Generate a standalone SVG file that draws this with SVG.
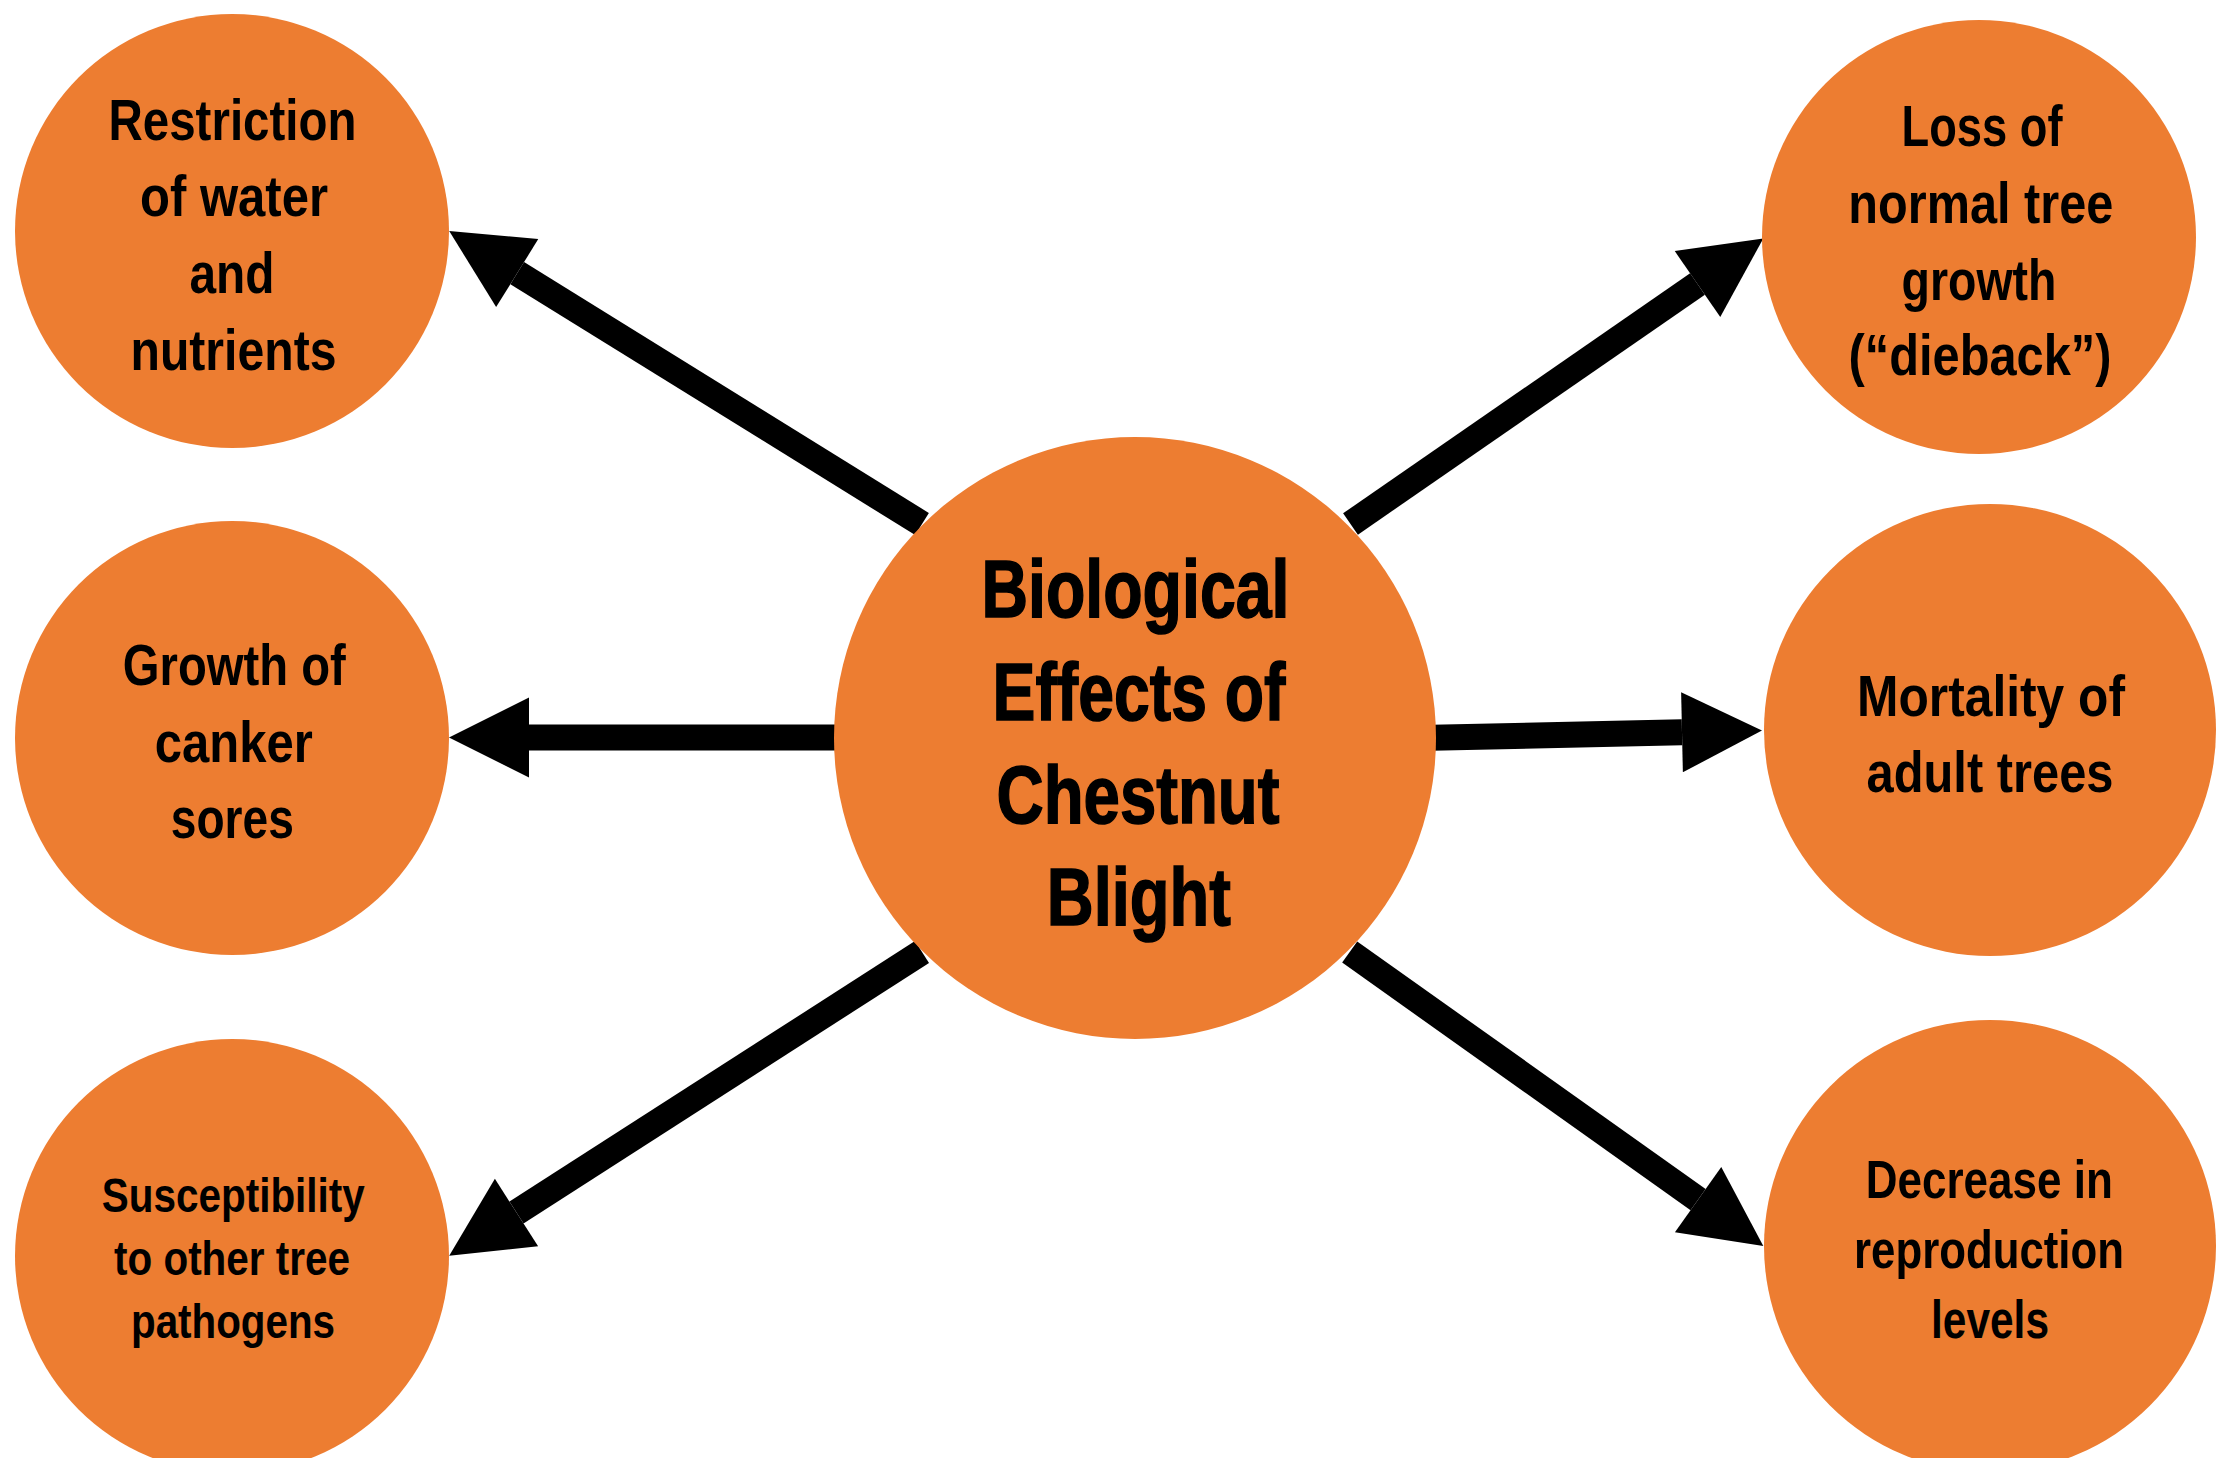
<svg xmlns="http://www.w3.org/2000/svg" width="2236" height="1458" viewBox="0 0 2236 1458">
<style>
.node{fill:#ED7D31;}
.lbl{font-family:"Liberation Sans Narrow","Liberation Sans",Arial,sans-serif;font-weight:bold;fill:#000;text-anchor:middle;}
.s58{font-size:58px;}
.s53{font-size:53px;}
.s48{font-size:48px;}
.big{font-size:81px;stroke:#000;stroke-width:1.5px;}
.conn{stroke:#000;stroke-width:26;stroke-linecap:butt;fill:none;marker-end:url(#head);}
</style>
<defs>
<marker id="head" markerUnits="userSpaceOnUse" markerWidth="82" markerHeight="82" refX="0" refY="0" orient="auto" overflow="visible">
<path d="M0,-40 L80,0 L0,40 z" fill="#000"/>
</marker>
</defs>
<rect width="2236" height="1458" fill="#fff"/>
<g id="connectors">
<line class="conn" x1="922" y1="524" x2="517.2" y2="273.1"/>
<line class="conn" x1="840" y1="737.5" x2="529" y2="737.5"/>
<line class="conn" x1="922" y1="952" x2="516.5" y2="1212.5"/>
<line class="conn" x1="1350.5" y1="524" x2="1697.5" y2="284"/>
<line class="conn" x1="1432" y1="737.7" x2="1682" y2="732.3"/>
<line class="conn" x1="1349.7" y1="952" x2="1698.1" y2="1199.6"/>
</g>
<g id="center">
<circle class="node" cx="1135" cy="738" r="301"/>
<text class="lbl big" x="1135.5" y="617.3" textLength="308" lengthAdjust="spacingAndGlyphs">Biological</text>
<text class="lbl big" x="1139" y="720" textLength="293" lengthAdjust="spacingAndGlyphs">Effects of</text>
<text class="lbl big" x="1138" y="822.7" textLength="283" lengthAdjust="spacingAndGlyphs">Chestnut</text>
<text class="lbl big" x="1138.8" y="925" textLength="184" lengthAdjust="spacingAndGlyphs">Blight</text>
</g>
<g id="restriction">
<circle class="node" cx="232" cy="231" r="217"/>
<text class="lbl s58" x="232.5" y="139.5" textLength="248" lengthAdjust="spacingAndGlyphs">Restriction</text>
<text class="lbl s58" x="234" y="216" textLength="188" lengthAdjust="spacingAndGlyphs">of water</text>
<text class="lbl s58" x="232" y="293" textLength="85" lengthAdjust="spacingAndGlyphs">and</text>
<text class="lbl s58" x="233.5" y="369.6" textLength="206" lengthAdjust="spacingAndGlyphs">nutrients</text>
</g>
<g id="canker">
<circle class="node" cx="232" cy="738" r="217"/>
<text class="lbl s58" x="234.3" y="685" textLength="223" lengthAdjust="spacingAndGlyphs">Growth of</text>
<text class="lbl s58" x="233.8" y="761.7" textLength="158" lengthAdjust="spacingAndGlyphs">canker</text>
<text class="lbl s58" x="232.3" y="838.3" textLength="123" lengthAdjust="spacingAndGlyphs">sores</text>
</g>
<g id="susceptibility">
<circle class="node" cx="232" cy="1256" r="217"/>
<text class="lbl s48" x="233.3" y="1211.7" textLength="263" lengthAdjust="spacingAndGlyphs">Susceptibility</text>
<text class="lbl s48" x="232" y="1275" textLength="236" lengthAdjust="spacingAndGlyphs">to other tree</text>
<text class="lbl s48" x="233" y="1338.3" textLength="204" lengthAdjust="spacingAndGlyphs">pathogens</text>
</g>
<g id="dieback">
<circle class="node" cx="1979" cy="237" r="217"/>
<text class="lbl s58" x="1982" y="146" textLength="161" lengthAdjust="spacingAndGlyphs">Loss of</text>
<text class="lbl s58" x="1980.8" y="223.3" textLength="265" lengthAdjust="spacingAndGlyphs">normal tree</text>
<text class="lbl s58" x="1979" y="300" textLength="155" lengthAdjust="spacingAndGlyphs">growth</text>
<text class="lbl s58" x="1980" y="375" textLength="263" lengthAdjust="spacingAndGlyphs">(“dieback”)</text>
</g>
<g id="mortality">
<circle class="node" cx="1990" cy="730" r="226"/>
<text class="lbl s58" x="1991" y="715.7" textLength="268" lengthAdjust="spacingAndGlyphs">Mortality of</text>
<text class="lbl s58" x="1990" y="792.3" textLength="247" lengthAdjust="spacingAndGlyphs">adult trees</text>
</g>
<g id="reproduction">
<circle class="node" cx="1990" cy="1246" r="226"/>
<text class="lbl s53" x="1989.3" y="1197.7" textLength="247" lengthAdjust="spacingAndGlyphs">Decrease in</text>
<text class="lbl s53" x="1989" y="1268.3" textLength="270" lengthAdjust="spacingAndGlyphs">reproduction</text>
<text class="lbl s53" x="1990" y="1338.3" textLength="118" lengthAdjust="spacingAndGlyphs">levels</text>
</g>
</svg>
